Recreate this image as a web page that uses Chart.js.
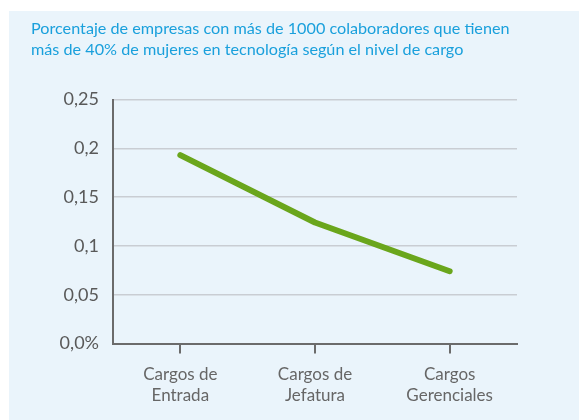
<!DOCTYPE html>
<html>
<head>
  <meta charset="utf-8">
  <title>Mujeres en tecnología por nivel de cargo</title>
  <script src="https://cdn.jsdelivr.net/npm/chart.js"></script>
  <style>
    body { margin: 0; background: #fff; }
    #box { position: absolute; left: 9px; top: 11px; width: 570px; height: 409px; background: #eaf4fb; }
  </style>
</head>
<body>
  <div id="box"><canvas id="cargo-chart" width="570" height="409"></canvas></div>
  <script>
    var titleLines = ['Porcentaje de empresas con más de 1000 colaboradores que tienen',
                      'más de 40% de mujeres en tecnología según el nivel de cargo'];
    var categories = [['Cargos de', 'Entrada'], ['Cargos de', 'Jefatura'], ['Cargos', 'Gerenciales']];
    var shareValues = [0.193, 0.124, 0.074];
    var yTickLabels = ['0,0%', '0,05', '0,1', '0,15', '0,2', '0,25'];

    var ctx = document.getElementById('cargo-chart').getContext('2d');
    var chart = new Chart(ctx, {
      type: 'line',
      data: {
        labels: categories,
        datasets: [{
          label: 'Porcentaje',
          data: shareValues,
          borderColor: '#6aa61c',
          borderWidth: 6,
          borderCapStyle: 'round',
          borderJoinStyle: 'round',
          pointRadius: 0,
          tension: 0,
          fill: false
        }]
      },
      options: {
        responsive: false,
        animation: false,
        layout: { padding: { left: 22, right: 62, top: 0, bottom: 4 } },
        plugins: {
          legend: { display: false },
          tooltip: { enabled: false },
          title: {
            display: true,
            text: titleLines,
            align: 'start',
            color: '#1aa0dc',
            font: { family: 'Lato', size: 16.2, weight: 'normal', lineHeight: 1.25 },
            padding: { top: 8, bottom: 40 }
          }
        },
        scales: {
          x: {
            offset: true,
            grid: { offset: false, drawOnChartArea: false, drawTicks: true, tickLength: 10, color: '#6b6b6b', lineWidth: 2 },
            border: { color: '#6b6b6b', width: 2 },
            ticks: { color: '#666', padding: 10, maxRotation: 0, font: { family: 'Lato', size: 17, lineHeight: 1.25 } }
          },
          y: {
            min: 0,
            max: 0.25,
            ticks: {
              stepSize: 0.05,
              padding: 14,
              color: '#595959',
              font: { family: 'Lato', size: 18 },
              callback: function(v, i) { return yTickLabels[i]; }
            },
            grid: { color: '#c9cdd3', lineWidth: 1.5, drawTicks: false },
            border: { color: '#6b6b6b', width: 2 },
            afterFit: function(scale) { scale.width = 82; }
          }
        }
      }
    });
  </script>
</body>
</html>
